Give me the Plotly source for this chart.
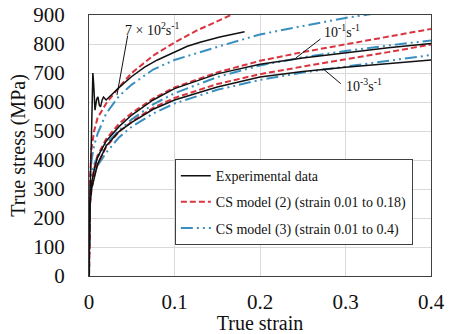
import plotly.graph_objects as go

# ---------------- data ----------------
strain_exp_high = [0, 0.001, 0.003, 0.0045, 0.0055, 0.007, 0.009, 0.0105, 0.012, 0.0135,
                   0.0155, 0.017, 0.020, 0.025, 0.036, 0.050, 0.065, 0.080, 0.100, 0.115,
                   0.130, 0.153, 0.182]
stress_exp_high = [0, 250, 500, 700, 660, 572, 610, 618, 590, 583,
                   608, 617, 607, 622, 652, 688, 720, 745, 773, 792,
                   806, 824, 842]

strain_grid = [0, 0.001, 0.003, 0.006, 0.01, 0.02, 0.035, 0.05, 0.075, 0.1,
               0.15, 0.2, 0.25, 0.3, 0.35, 0.4]
stress_exp_mid = [0, 250, 320, 365, 410, 465, 515, 555, 607, 646,
                  697, 730, 752, 770, 787, 802]
stress_exp_low = [0, 240, 300, 340, 385, 448, 498, 530, 575, 607,
                  652, 686, 705, 720, 733, 745]

strain_m2_high = [0, 0.001, 0.003, 0.006, 0.01, 0.02, 0.035, 0.05, 0.075, 0.1,
                  0.125, 0.15, 0.175]
stress_m2_high = [0, 330, 440, 500, 545, 595, 650, 700, 760, 805,
                  845, 880, 912]
stress_m2_mid = [0, 260, 320, 370, 415, 472, 525, 562, 612, 650,
                 702, 742, 772, 798, 825, 852]
stress_m2_low = [0, 240, 300, 345, 385, 445, 497, 532, 580, 614,
                 662, 696, 722, 746, 772, 798]

stress_m3_high = [0, 330, 400, 450, 490, 560, 620, 660, 712, 745,
                  790, 833, 862, 890, 912, 930]
stress_m3_mid = [0, 300, 350, 385, 410, 455, 502, 540, 592, 630,
                 686, 726, 754, 776, 795, 812]
stress_m3_low = [0, 290, 335, 360, 380, 425, 478, 515, 560, 595,
                 642, 676, 702, 722, 742, 762]

x_ticks = [0, 0.1, 0.2, 0.3, 0.4]
x_tick_labels = ["0", "0.1", "0.2", "0.3", "0.4"]

legend_names = ["Experimental data",
                "CS model (2) (strain 0.01 to 0.18)",
                "CS model (3) (strain 0.01 to 0.4)"]

# ---------------- styles ----------------
FONT = "Liberation Serif"
BLACK = "#111111"
RED = "#d9343f"
BLUE = "#3a8fc0"
RED_DASH = "6px,3px"
BLUE_DASH = "12px,4px,2px,4px,2px,4px"

fig = go.Figure()

# model (3) - blue dash-dot-dot
for i, ys in enumerate([stress_m3_high, stress_m3_mid, stress_m3_low]):
    fig.add_trace(go.Scatter(x=strain_grid, y=ys, mode="lines",
                             name=legend_names[2], legendgroup="m3",
                             showlegend=(i == 0), legendrank=3,
                             line=dict(color=BLUE, width=2, dash=BLUE_DASH)))
# model (2) - red dashed
for i, (xs, ys) in enumerate([(strain_m2_high, stress_m2_high),
                              (strain_grid, stress_m2_mid),
                              (strain_grid, stress_m2_low)]):
    fig.add_trace(go.Scatter(x=xs, y=ys, mode="lines",
                             name=legend_names[1], legendgroup="m2",
                             showlegend=(i == 0), legendrank=2,
                             line=dict(color=RED, width=2, dash=RED_DASH)))
# experimental - black
for i, (xs, ys) in enumerate([(strain_exp_high, stress_exp_high),
                              (strain_grid, stress_exp_mid),
                              (strain_grid, stress_exp_low)]):
    fig.add_trace(go.Scatter(x=xs, y=ys, mode="lines",
                             name=legend_names[0], legendgroup="exp",
                             showlegend=(i == 0), legendrank=1,
                             line=dict(color=BLACK, width=1.5)))

# labels with leader lines
labels = [
    dict(text="7 × 10<sup>2</sup>s<sup>-1</sup>", x=0.0737, y=852,
         tip=(0.0327, 624), ax=11, ay=-61),
    dict(text="10<sup>-1</sup>s<sup>-1</sup>", x=0.296, y=845,
         tip=(0.242, 752), ax=26, ay=-20),
    dict(text="10<sup>-3</sup>s<sup>-1</sup>", x=0.322, y=659,
         tip=(0.274, 714), ax=19, ay=16),
]
for lb in labels:
    fig.add_annotation(x=lb["x"], y=lb["y"], text=lb["text"], showarrow=False,
                       font=dict(family=FONT, size=14, color=BLACK))
    fig.add_annotation(x=lb["tip"][0], y=lb["tip"][1], text="", showarrow=True,
                       arrowhead=0, arrowwidth=1, arrowcolor=BLACK,
                       ax=lb["ax"], ay=lb["ay"], axref="pixel", ayref="pixel")

axis_common = dict(showgrid=True, gridcolor="#d9d9d9", gridwidth=1,
                   showline=True, linecolor="#404040", linewidth=1, mirror=True,
                   zeroline=False, ticks="", automargin=False,
                   tickfont=dict(family=FONT, size=21, color=BLACK))

fig.update_layout(
    width=453, height=334,
    margin=dict(l=89, r=22, t=15, b=58),
    paper_bgcolor="white", plot_bgcolor="white",
    font=dict(family=FONT, color=BLACK),
    xaxis=dict(range=[0, 0.4], tickvals=x_ticks, ticktext=x_tick_labels,
               ticklabelstandoff=7,
               title=dict(text="True strain", font=dict(family=FONT, size=20),
                          standoff=2),
               **axis_common),
    yaxis=dict(range=[0, 900], dtick=100, ticklabelstandoff=19,
               title=dict(text="True stress (MPa)", font=dict(family=FONT, size=20),
                          standoff=2),
               **axis_common),
    legend=dict(x=0.251, y=0.448, xanchor="left", yanchor="top",
                bgcolor="white", bordercolor="#404040", borderwidth=1,
                font=dict(family=FONT, size=14, color=BLACK),
                itemwidth=30, tracegroupgap=5, traceorder="grouped"),
)

fig.write_html("out.html",
               config={"displayModeBar": False},
               post_script="document.body.style.margin='0';"
                           "document.body.style.overflow='hidden';")
